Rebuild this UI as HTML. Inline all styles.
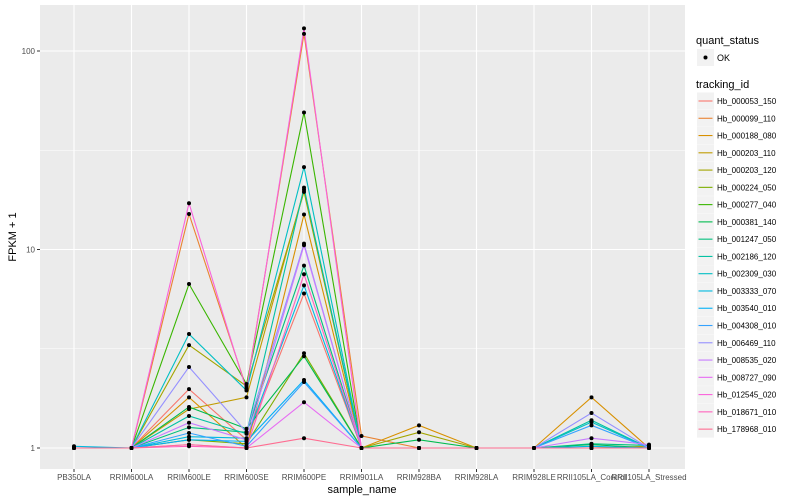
<!DOCTYPE html>
<html><head><meta charset="utf-8"><style>
body{margin:0;background:#fff;}
svg{font-family:"Liberation Sans",sans-serif;display:block}
</style></head><body>
<svg id="chart" width="800" height="500"></svg>
<script>
const categories=["PB350LA","RRIM600LA","RRIM600LE","RRIM600SE","RRIM600PE","RRIM901LA","RRIM928BA","RRIM928LA","RRIM928LE","RRII105LA_Control","RRII105LA_Stressed"];
const seriesIds=["Hb_000053_150","Hb_000099_110","Hb_000188_080","Hb_000203_110","Hb_000203_120","Hb_000224_050","Hb_000277_040","Hb_000381_140","Hb_001247_050","Hb_002186_120","Hb_002309_030","Hb_003333_070","Hb_003540_010","Hb_004308_010","Hb_006469_110","Hb_008535_020","Hb_008727_090","Hb_012545_020","Hb_018671_010","Hb_178968_010"];
const seriesColors=["#F8766D","#EA8331","#D89000","#C09B00","#A3A500","#7CAE00","#39B600","#00BB4E","#00BF7D","#00C1A3","#00BFC4","#00BAE0","#00B0F6","#35A2FF","#9590FF","#C77CFF","#E76BF3","#FA62DB","#FF62BC","#FF6C91"];
const s0=[1,1,1.98,1.1,6.0,1,1,1,1,1,1];
const s1=[1,1,15.1,2.0,122,1.15,1,1,1,1,1];
const s2=[1,1,1.8,1.0,15,1,1.3,1,1,1.8,1];
const s3=[1,1,1.57,1.8,20,1,1,1,1,1,1.02];
const s4=[1,1,3.3,2.05,19.5,1,1.2,1,1,1,1];
const s5=[1,1,1.1,1.05,3.0,1,1,1,1,1,1];
const s6=[1,1,6.7,2.1,49,1,1,1,1,1,1];
const s7=[1,1,1.61,1.25,2.9,1,1.1,1,1,1.04,1];
const s8=[1,1,1.27,1.2,8.3,1,1,1,1,1.05,1.03];
const s9=[1,1,1.45,1.18,20.5,1,1,1,1,1.38,1];
const s10=[1,1,3.75,1.95,26,1,1,1,1,1.35,1];
const s11=[1.02,1,1.14,1.12,6.6,1,1,1,1,1.02,1];
const s12=[1,1,1.1,1.08,2.2,1,1,1,1,1,1];
const s13=[1,1,1.19,1.02,2.15,1,1,1,1,1.3,1];
const s14=[1,1,2.56,1.2,10.7,1,1,1,1,1.5,1];
const s15=[1,1,1.34,1.1,10.5,1,1,1,1,1.12,1.04];
const s16=[1,1,1.04,1.0,1.7,1,1,1,1,1,1];
const s17=[1,1,17.1,1.95,130,1,1,1,1,1,1];
const s18=[1,1,1.02,1.0,7.5,1,1,1,1,1,1];
const s19=[1,1,1.04,1,1.12,1,1,1,1,1,1];
const seriesValues=[s0,s1,s2,s3,s4,s5,s6,s7,s8,s9,s10,s11,s12,s13,s14,s15,s16,s17,s18,s19];
const yTicks=[1,10,100];
const yTickLabels=["1","10","100"];

const NS="http://www.w3.org/2000/svg";
const svg=document.getElementById("chart");
const P={l:40,r:685,t:5,b:469};
function x(i){return 74+i*(649-74)/(categories.length-1);}
function y(v){return 448-198.5*Math.log10(v);}
function mk(tag,attrs,parent){const e=document.createElementNS(NS,tag);for(const k in attrs)e.setAttribute(k,attrs[k]);(parent||svg).appendChild(e);return e;}

const panel=mk("rect",{x:P.l,y:P.t,width:P.r-P.l,height:P.b-P.t,fill:"#EBEBEB"});


[-0.5,0.5,1.5,2.5].forEach(l=>{const yy=448-198.5*l;if(yy>P.t&&yy<P.b){const g=mk("line",{x1:P.l,x2:P.r,y1:yy,y2:yy,stroke:"#fff","stroke-width":0.55});}});
yTicks.forEach((v,i)=>{
  const g=mk("line",{x1:P.l,x2:P.r,y1:y(v),y2:y(v),stroke:"#fff","stroke-width":1.1});
  
  
  mk("line",{x1:P.l-3,x2:P.l,y1:y(v),y2:y(v),stroke:"#333","stroke-width":1});
  const t=mk("text",{x:P.l-5,y:y(v)+3,"text-anchor":"end","font-size":8,fill:"#4D4D4D"});
  t.textContent=yTickLabels[i];
  
  
});
categories.forEach((c,i)=>{
  const g=mk("line",{x1:x(i),x2:x(i),y1:P.t,y2:P.b,stroke:"#fff","stroke-width":1.1});
  
  
  mk("line",{x1:x(i),x2:x(i),y1:P.b,y2:P.b+3,stroke:"#333","stroke-width":1});
  const t=mk("text",{x:x(i),y:P.b+11,"text-anchor":"middle","font-size":8,fill:"#4D4D4D"});
  t.textContent=c;
  
  
});
seriesValues.forEach((vals,s)=>{
  const pl=mk("polyline",{points:vals.map((v,i)=>x(i)+","+y(v)).join(" "),fill:"none",stroke:seriesColors[s],"stroke-width":1.1});
  
  
});
seriesValues.forEach((vals,s)=>{
  vals.forEach((v,i)=>{
    const c=mk("circle",{cx:x(i),cy:y(v),r:2,fill:"#000"});
    
    
  });
});
const yt=mk("text",{x:0,y:0,transform:"translate(16,237) rotate(-90)","text-anchor":"middle","font-size":11,fill:"#000"});
yt.textContent="FPKM + 1";


const xt=mk("text",{x:362,y:493,"text-anchor":"middle","font-size":11,fill:"#000"});
xt.textContent="sample_name";



// legend
const qt=mk("text",{x:696,y:44,"font-size":11,fill:"#000"});
qt.textContent="quant_status";


mk("rect",{x:697,y:49,width:17,height:17,fill:"#F2F2F2"});
mk("circle",{cx:705.5,cy:57.5,r:2,fill:"#000"});
const ok=mk("text",{x:717,y:61,"font-size":9,fill:"#000"});
ok.textContent="OK";


const tt=mk("text",{x:696,y:88,"font-size":11,fill:"#000"});
tt.textContent="tracking_id";


seriesIds.forEach((id,s)=>{
  const cy=101+s*17.27;
  mk("rect",{x:697,y:cy-8.5,width:17,height:17,fill:"#F2F2F2"});
  mk("line",{x1:698.5,x2:712.5,y1:cy,y2:cy,stroke:seriesColors[s],"stroke-width":1.1});
  const t=mk("text",{x:717,y:cy+3,"font-size":8,fill:"#000"});
  t.textContent=id;
  
  
});
</script>
</body></html>
